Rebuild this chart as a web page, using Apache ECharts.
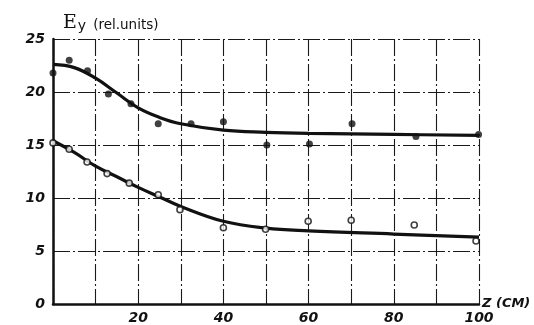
<!DOCTYPE html>
<html>
<head>
<meta charset="utf-8">
<script src="https://cdn.jsdelivr.net/npm/echarts@6/dist/echarts.min.js"></script>
<style>
  html, body { margin: 0; padding: 0; background: #fff; }
  #chart { width: 534px; height: 325px; }
</style>
</head>
<body>
<div id="chart"></div>
<script>
// Distance along z (cm) and measured field component E_y (relative units)
const upperDotsZ = [0, 3.8, 8.1, 13, 18.3, 24.7, 32.4, 40, 50.2, 60.2, 70.2, 85.2, 99.9];
const upperDotsE = [21.8, 23.0, 22.0, 19.8, 18.9, 17.0, 17.0, 17.2, 15.0, 15.1, 17.0, 15.8, 16.0];

const lowerDotsZ = [0, 3.8, 8, 12.7, 17.9, 24.7, 29.8, 40, 49.9, 59.9, 70, 84.8, 99.3];
const lowerDotsE = [15.2, 14.6, 13.4, 12.3, 11.4, 10.3, 8.9, 7.2, 7.05, 7.8, 7.9, 7.45, 5.95];

// Fitted curves drawn through the measurements
const upperCurveZ = [0, 5, 10, 15, 20, 25, 30, 40, 50, 60, 80, 100];
const upperCurveE = [22.6, 22.3, 21.3, 19.9, 18.5, 17.6, 17.0, 16.4, 16.2, 16.1, 16.0, 15.9];

const lowerCurveZ = [0, 5, 10, 15, 20, 25, 30, 40, 50, 60, 80, 100];
const lowerCurveE = [15.4, 14.3, 13.0, 12.0, 11.0, 10.1, 9.2, 7.8, 7.15, 6.9, 6.6, 6.3];

const zTicks = [20, 40, 60, 80, 100];
const eTicks = [0, 5, 10, 15, 20, 25];

const zip = (xs, ys) => xs.map((x, i) => [x, ys[i]]);

const tickFont = {
  fontFamily: 'DejaVu Sans',
  fontStyle: 'italic',
  fontWeight: 'bold',
  fontSize: 14,
  color: '#111'
};

const gridLine = {
  show: true,
  lineStyle: { color: '#1a1a1a', width: 1.1, type: [17, 3, 2, 3] }
};

const chart = echarts.init(document.getElementById('chart'), null, { renderer: 'canvas' });

chart.setOption({
  animation: false,
  backgroundColor: '#fff',
  grid: { left: 53, right: 55, top: 39, bottom: 20, containLabel: false },
  title: {
    left: 58,
    top: 9,
    text: '{e|E}{y|y} {u|(rel.units)}',
    textStyle: {
      fontWeight: 'normal',
      rich: {
        e: { fontFamily: 'DejaVu Serif', fontSize: 19, fontWeight: 'normal', color: '#111' },
        y: { fontFamily: 'DejaVu Sans', fontSize: 14, fontWeight: 'normal', color: '#111', padding: [5, 0, 0, 1] },
        u: { fontFamily: 'DejaVu Sans', fontSize: 13.5, fontWeight: 'normal', color: '#111', padding: [3, 0, 0, 2] }
      }
    }
  },
  xAxis: {
    type: 'value',
    min: 0,
    max: 100,
    interval: 10,
    name: 'Z (CM)',
    nameLocation: 'end',
    nameGap: 3,
    nameTextStyle: Object.assign({}, tickFont, { fontSize: 13, verticalAlign: 'middle', padding: [-10, 0, 0, 0] }),
    axisLine: { show: true, lineStyle: { color: '#111', width: 2.5 } },
    axisTick: { show: false },
    splitLine: gridLine,
    axisLabel: Object.assign({}, tickFont, {
      margin: 7,
      formatter: v => (zTicks.includes(v) ? String(v) : '')
    })
  },
  yAxis: {
    type: 'value',
    min: 0,
    max: 25,
    interval: 5,
    axisLine: { show: true, lineStyle: { color: '#111', width: 2.5 } },
    axisTick: { show: false },
    splitLine: gridLine,
    axisLabel: Object.assign({}, tickFont, {
      margin: 8,
      formatter: v => (eTicks.includes(v) ? String(v) : '')
    })
  },
  series: [
    {
      type: 'line',
      data: zip(upperCurveZ, upperCurveE),
      smooth: 0.4,
      showSymbol: false,
      lineStyle: { color: '#111', width: 3.2 },
      z: 3
    },
    {
      type: 'line',
      data: zip(lowerCurveZ, lowerCurveE),
      smooth: 0.4,
      showSymbol: false,
      lineStyle: { color: '#111', width: 3.2 },
      z: 3
    },
    {
      type: 'scatter',
      data: zip(upperDotsZ, upperDotsE),
      symbol: 'circle',
      symbolSize: 7,
      itemStyle: { color: '#111' },
      z: 4
    },
    {
      type: 'scatter',
      data: zip(lowerDotsZ, lowerDotsE),
      symbol: 'circle',
      symbolSize: 6,
      itemStyle: { color: '#fff', borderColor: '#111', borderWidth: 1.6 },
      z: 4
    }
  ]
});
</script>
</body>
</html>
